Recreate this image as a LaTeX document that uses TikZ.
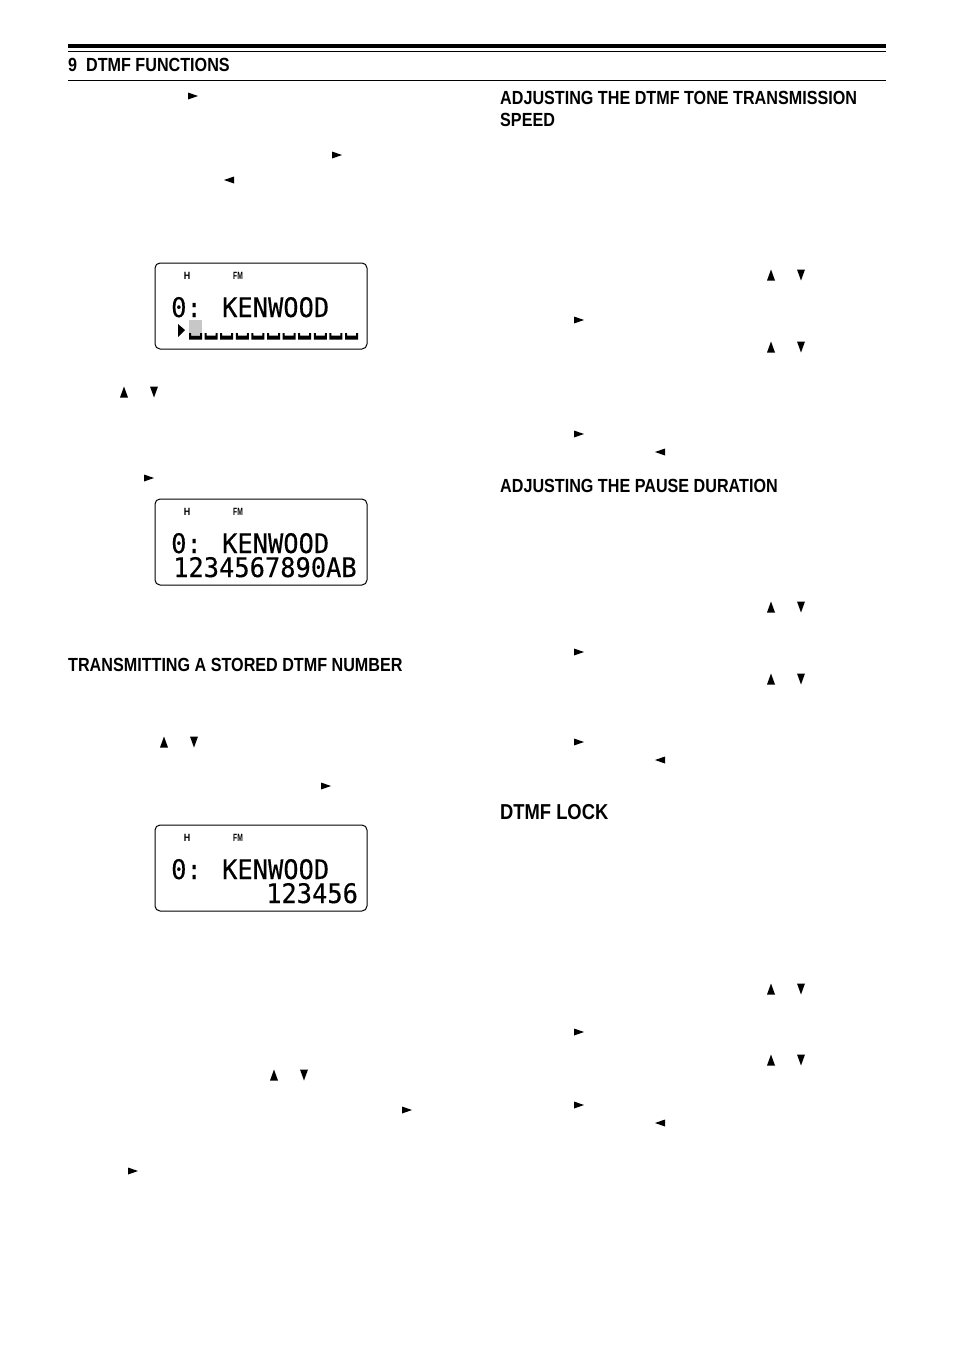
\documentclass[tikz,border=0pt]{standalone}
\usepackage{fontspec}
\setmainfont[FakeStretch=0.85]{Liberation Sans}
\newfontfamily\lcdfont[FakeBold=0.35]{DejaVu Sans Mono}
\usepackage{tikz}
\usetikzlibrary{positioning}
\tikzset{
  heading/.style={anchor=base west,inner sep=0pt,font=\fontsize{19}{23}\selectfont\bfseries,align=left},
  bigheading/.style={anchor=base west,inner sep=0pt,font=\fontsize{21.6}{26}\selectfont\bfseries},
  lcdbox/.style={draw,line width=1pt,rounded corners=5pt,minimum width=212pt,minimum height=86pt,inner sep=0pt},
  lcdtext/.style={anchor=base west,inner sep=0pt,yscale=1.06,font=\fontsize{25.4}{30}\lcdfont},
  lcdicon/.style={inner sep=0pt,font=\fontsize{10.5}{12}\selectfont\bfseries}
}
\newcommand{\tiparrow}[2]{\fill[shift={(#1,#2)}] (-5,-3.5) -- (5,0) -- (-5,3.5) -- cycle;}
\newcommand{\tipleft}[2]{\fill[shift={(#1,#2)}] (5,-3.5) -- (-5,0) -- (5,3.5) -- cycle;}
\newcommand{\tipupdown}[2]{%
  \fill[shift={(#1,#2)}] (-4,5.5) -- (0,-5.5) -- (4,5.5) -- cycle;
  \fill[shift={(#1+30,#2)}] (-4,-5.5) -- (0,5.5) -- (4,-5.5) -- cycle;}
\begin{document}
\begin{tikzpicture}[x=1pt,y=-1pt]
  \useasboundingbox[fill=white] (0,0) rectangle (954,1349);
  % page head
  \fill (68,44) rectangle (886,48);
  \draw[line width=.8pt] (68,51) -- (886,51);
  \draw[line width=.8pt] (68,80.5) -- (886,80.5);
  \node[heading] (title) at (68,71.5) {9\ \ DTMF FUNCTIONS};
  % headings
  \node[heading] (speed) at (500,104) {ADJUSTING THE DTMF TONE TRANSMISSION};
  \node[heading] (speedb) at (500,126) {SPEED};
  \node[heading] (pause) at (500,492.5) {ADJUSTING THE PAUSE DURATION};
  \node[heading] (stored) at (68,671.5) {TRANSMITTING A STORED DTMF NUMBER};
  \node[bigheading] (lock) at (500,819.5) {DTMF LOCK};
  % displays
  \foreach \name/\ypos in {lcda/306,lcdb/542,lcdc/868}{
    \node[lcdbox] (\name) at (261,\ypos) {};
    \node[lcdicon] (\name h) at (187,\ypos-30) {H};
    \node[lcdicon,xscale=.75] (\name f) at (238,\ypos-30) {FM};
    \node[lcdtext] (\name t) at (171,\ypos+11) {0: KENWOOD};
  }
  \node[lcdtext] (lcdbn) at (173,577) {1234567890AB};
  \node[lcdtext] (lcdcn) at (266,903) {123456};
  % cursor row
  \fill[black!22] (189,320) rectangle (202,335);
  \fill (178,324) -- (185,330) -- (178,337) -- cycle;
  \foreach \i in {0,...,10}{
    \fill[shift={(189+15.6*\i,333)}] (0,0) -- (2,0) -- (2,2.5) -- (11,2.5) -- (11,0) -- (13,0) -- (13,6.5) -- (0,6.5) -- cycle;
  }
  % key marks
  \foreach \x/\y in {193/96,337/155,149/478,326/786,407/1110,133/1171,579/320,579/434,579/652,579/742,579/1032,579/1105}{
    \tiparrow{\x}{\y}
  }
  \foreach \x/\y in {229/180,660/452,660/760,660/1123}{
    \tipleft{\x}{\y}
  }
  \foreach \x/\y in {124/392,164/742,274/1075,771/275,771/347,771/607,771/679,771/989,771/1060}{
    \tipupdown{\x}{\y}
  }
\end{tikzpicture}
\end{document}
